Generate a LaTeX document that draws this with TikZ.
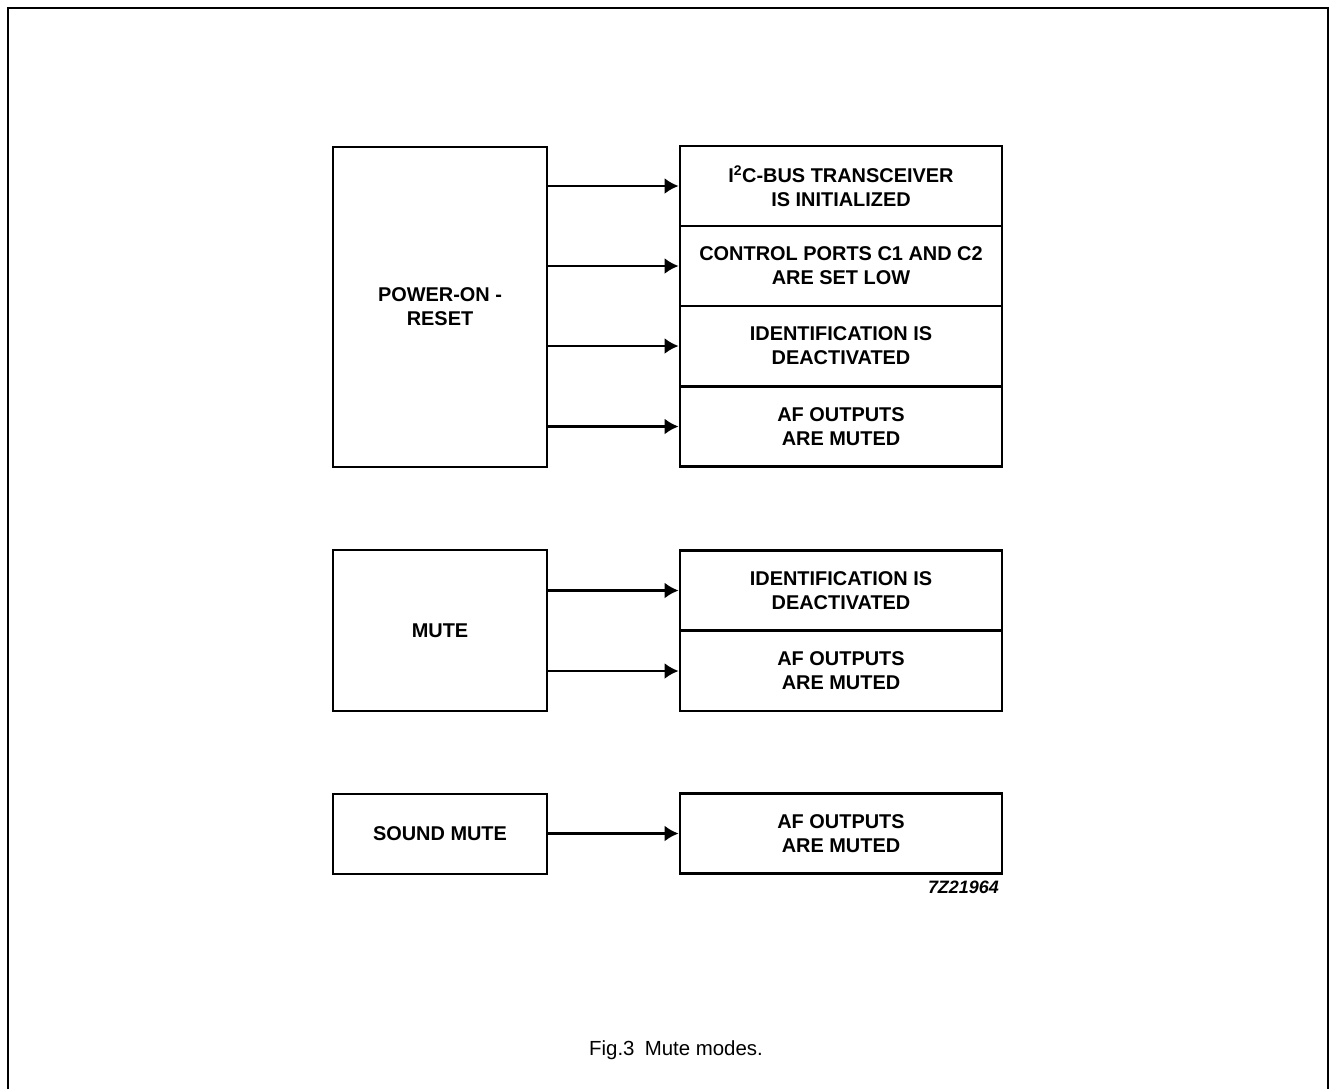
\documentclass[tikz,border=0pt]{standalone}
\usepackage{fontspec}
\setmainfont{Liberation Sans}
\usetikzlibrary{arrows.meta}
\begin{document}
\begin{tikzpicture}[x=1bp,y=-1bp,
  blk/.style={draw, line width=2.8bp, inner sep=0pt, align=center,
    font=\bfseries\fontsize{20}{24}\selectfont},
  lbox/.style={blk, minimum width=214bp},
  rbox/.style={blk, minimum width=322bp, minimum height=80bp},
  arr/.style={line width=2.6bp, -{Latex[length=14bp,width=16bp]}},
  frame/.style={line width=2bp}
]
\useasboundingbox (0,0) rectangle (1329,1089);
\draw[frame] (7.5,1089) -- (7.5,7.5) -- (1327.5,7.5) -- (1327.5,1089);

% Power-on reset group
\node[lbox, minimum height=320bp] (pwr) at (440,307) {POWER-ON -\\RESET};
\node[rbox] (r1) at (841,186) {I\textsuperscript{2}C-BUS TRANSCEIVER\\IS INITIALIZED};
\node[rbox] (r2) at (841,266) {CONTROL PORTS C1 AND C2\\ARE SET LOW};
\node[rbox] (r3) at (841,346) {IDENTIFICATION IS\\DEACTIVATED};
\node[rbox] (r4) at (841,426.5) {AF OUTPUTS\\ARE MUTED};
\draw[arr] (pwr.east |- r1.west) -- (r1.west);
\draw[arr] (pwr.east |- r2.west) -- (r2.west);
\draw[arr] (pwr.east |- r3.west) -- (r3.west);
\draw[arr] (pwr.east |- r4.west) -- (r4.west);

% Mute group
\node[lbox, minimum height=161bp] (mute) at (440,630.5) {MUTE};
\node[rbox] (m1) at (841,590.5) {IDENTIFICATION IS\\DEACTIVATED};
\node[rbox] (m2) at (841,671) {AF OUTPUTS\\ARE MUTED};
\draw[arr] (mute.east |- m1.west) -- (m1.west);
\draw[arr] (mute.east |- m2.west) -- (m2.west);

% Sound mute group
\node[lbox, minimum height=80bp] (snd) at (440,834) {SOUND MUTE};
\node[rbox] (s1) at (841,833.5) {AF OUTPUTS\\ARE MUTED};
\draw[arr] (snd.east |- s1.west) -- (s1.west);

\node[anchor=east, inner sep=0pt, font=\bfseries\itshape\fontsize{18}{21}\selectfont] (code) at (999,887) {7Z21964};

\node[inner sep=0pt, font=\fontsize{20.5}{24}\selectfont] (cap) at (676,1050) {Fig.3\hspace{0.5em}Mute modes.};
\end{tikzpicture}
\end{document}
